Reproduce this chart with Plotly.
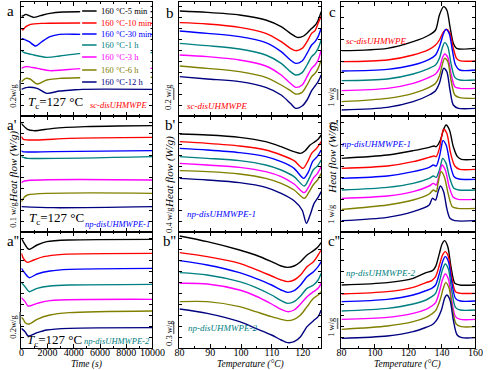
import plotly.graph_objects as go

W, H = 500, 370
SERIF = "Liberation Serif"

names = ["160 °C-5 min", "160 °C-10 min", "160 °C-30 min", "160 °C-1 h",
         "160 °C-3 h", "160 °C-6 h", "160 °C-12 h"]
colors = ["#000000", "#ff0000", "#0000ff", "#008080", "#ff00ff", "#808000", "#000080"]

# ---- column a : isothermal crystallization at 127 °C (time, s ; stacked heat flow, a.u.)
a_x = [
    [0, 100, 340, 590, 950, 1450, 2180, 3160, 4630, 10000],
    [0, 100, 340, 700, 1700, 10000],
    [0, 220, 590, 1080, 1570, 2180, 2915, 4630, 10000],
    [0, 220, 955, 1935, 2915, 3895, 4630, 10000],
    [0, 340, 1200, 2180, 3160, 4630, 10000],
    [0, 340, 660, 1200, 1935, 2915, 4630, 10000],
    [0, 465, 1200, 1935, 2915, 3895, 4630, 10000],
]
a_y = [
    [300, 300, 305, 301, 296, 301, 308, 312, 313, 313],
    [262, 258, 268, 275, 278, 278],
    [233, 230, 223, 210, 223, 238, 245, 245, 245],
    [196, 190, 183, 176, 180, 185, 188, 190],
    [143, 148, 143, 136, 138, 142, 143],
    [103, 113, 111, 96, 108, 113, 115, 116],
    [80, 86, 83, 68, 75, 78, 80, 80],
]
ap_x = [
    [0, 100, 465, 955, 2425, 4875, 7325, 10000],
    [0, 150, 1200, 3650, 10000],
    [0, 100, 2425, 10000],
    [0, 220, 465, 10000],
    [0, 220, 10000],
    [0, 220, 465, 10000],
    [0, 2425, 10000],
]
ap_y = [
    [326, 321, 308, 304, 311, 316, 318, 319],
    [286, 278, 276, 281, 284],
    [244, 241, 241, 244],
    [226, 223, 221, 226],
    [148, 153, 156],
    [91, 104, 111, 116],
    [76, 73, 76],
]
app_x = [
    [0, 220, 465, 590, 1200, 1935, 3650, 10000],
    [0, 150, 465, 955, 1690, 3160, 10000],
    [0, 280, 590, 1200, 2180, 3650, 10000],
    [0, 280, 590, 1200, 2180, 3650, 10000],
    [0, 280, 515, 1200, 2180, 10000],
    [0, 150, 295, 590, 1200, 2180, 3650, 10000],
    [0, 280, 515, 1200, 1935, 3650, 10000],
]
app_y = [
    [329, 314, 299, 296, 309, 319, 324, 326],
    [284, 269, 257, 264, 274, 281, 284],
    [239, 224, 211, 222, 231, 236, 239],
    [196, 184, 169, 179, 186, 189, 191],
    [151, 139, 126, 134, 142, 146],
    [92, 86, 76, 72, 86, 99, 106, 111],
    [59, 49, 36, 46, 54, 59, 61],
]

# ---- column b : temperature (°C) ; stacked heat flow, a.u.
b_T0 = [80, 89, 99.5, 108, 113, 116, 118.2, 120.3, 122.4, 124.5, 126]
b_T = [80, 89, 99.5, 108, 113, 116, 117.7, 119.8, 121.4, 122.9, 124, 125, 126]
b_x = [b_T0, b_T, b_T, b_T, b_T, b_T, b_T]
b_y = [
    [315, 311, 303, 288, 268, 248, 236, 240, 258, 278, 313],
    [280, 276, 266, 248, 223, 203, 196, 203, 223, 248, 256, 278, 300],
    [255, 248, 238, 220, 193, 168, 158, 165, 188, 213, 223, 238, 263],
    [218, 211, 201, 183, 158, 133, 123, 130, 153, 178, 188, 203, 228],
    [183, 178, 168, 150, 123, 98, 86, 93, 118, 143, 153, 168, 198],
    [150, 143, 133, 116, 93, 76, 66, 71, 93, 118, 128, 143, 168],
    [118, 111, 103, 86, 63, 38, 23, 30, 48, 76, 90, 103, 123],
]
bp_T = [80, 89, 99.5, 108, 113, 117.2, 120.5, 122.1, 123.4, 124.8, 126]
bp_x = [
    [80, 89, 99.5, 108, 113, 117.2, 119.3, 120.8, 122.4, 124, 125, 126],
    [80, 89, 99.5, 108, 113, 117.2, 120.1, 121.6, 122.9, 124.5, 126],
    [80, 89, 99.5, 108, 113, 117.2, 120.3, 121.9, 123.2, 124.7, 126],
    bp_T, bp_T, bp_T,
    [80, 89, 99.5, 108, 113, 117.2, 119.8, 121.2, 122.4, 123.7, 125, 126],
]
bp_y = [
    [294, 291, 284, 271, 256, 241, 236, 244, 261, 271, 278, 291],
    [271, 266, 258, 246, 231, 214, 191, 211, 236, 251, 271],
    [251, 246, 238, 226, 211, 191, 161, 181, 211, 226, 246],
    [226, 221, 214, 201, 186, 166, 138, 161, 186, 198, 216],
    [206, 201, 194, 181, 166, 144, 118, 138, 161, 176, 196],
    [184, 181, 174, 161, 146, 126, 101, 121, 141, 156, 176],
    [161, 156, 148, 134, 116, 94, 66, 26, 51, 86, 104, 121],
]
bpp_T = [80, 89, 99.5, 104.7, 109.9, 113, 115.1, 117.2, 119.3, 121.4, 123.5, 125, 126]
bpp_x = [bpp_T] * 7
bpp_y = [
    [336, 319, 294, 279, 259, 246, 242, 246, 259, 279, 292, 304, 316],
    [286, 274, 254, 236, 216, 204, 199, 204, 219, 244, 259, 279, 294],
    [262, 249, 226, 209, 189, 174, 167, 172, 189, 214, 229, 244, 259],
    [226, 219, 199, 182, 159, 142, 134, 139, 156, 179, 189, 204, 224],
    [194, 192, 174, 156, 132, 116, 109, 114, 132, 154, 169, 179, 194],
    [139, 139, 124, 109, 94, 86, 82, 86, 99, 124, 149, 159, 169],
    [117, 104, 79, 59, 39, 24, 16, 19, 34, 64, 82, 94, 114],
]

# ---- column c : temperature (°C) ; stacked heat flow, a.u.
c_T = [80, 107.4, 122.8, 132.4, 136.2, 138.5, 140.4, 141.6, 143.5, 145.4, 147.7, 150.6, 160]
c_x = [
    [80, 107.4, 122.8, 132.4, 136.2, 138.5, 141, 142.9, 144.8, 146.8, 148.7, 160],
    [80, 107.4, 122.8, 132.4, 136.2, 138.5, 141, 142.9, 144.8, 146.8, 148.7, 150.6, 160],
    [80, 107.4, 122.8, 132.4, 136.2, 138.5, 141, 142.3, 144.3, 146.2, 148.1, 150.6, 160],
    c_T, c_T, c_T,
    [80, 107.4, 122.8, 132.4, 136.2, 138.5, 140, 141, 142.9, 144.8, 146.8, 149.8, 160],
]
c_y = [
    [196, 203, 223, 243, 258, 303, 328, 318, 268, 218, 203, 203],
    [163, 168, 183, 200, 213, 228, 253, 260, 248, 203, 173, 166, 165],
    [135, 140, 153, 170, 183, 208, 248, 260, 248, 198, 153, 138, 138],
    [106, 111, 126, 143, 153, 173, 208, 220, 208, 158, 116, 108, 108],
    [76, 83, 98, 116, 126, 143, 176, 186, 176, 128, 88, 83, 83],
    [43, 53, 68, 86, 98, 120, 158, 173, 163, 108, 63, 55, 53],
    [18, 26, 43, 63, 76, 98, 128, 143, 133, 78, 33, 23, 23],
]
cp_x = [
    [80, 107.4, 122.8, 132.4, 135.3, 136.6, 139.1, 141, 142.5, 144.5, 146.8, 149.3, 151.6, 160],
    [80, 107.4, 122.8, 132.4, 135.3, 136.6, 138.5, 140, 141, 142.9, 145.2, 147.7, 150.6, 160],
    [80, 107.4, 122.8, 132.4, 134.9, 136.6, 138.5, 139.7, 140.6, 142.5, 145, 147.3, 150.2, 160],
    [80, 107.4, 122.8, 132.4, 134.9, 136.6, 138.5, 139.5, 140.4, 142.3, 144.7, 147.1, 150, 160],
    [80, 107.4, 122.8, 132.4, 134.9, 136.6, 138.1, 139.1, 140, 142, 144.3, 146.8, 149.6, 160],
    [80, 107.4, 122.8, 132.4, 134.9, 136.6, 137.7, 138.5, 139.5, 141.4, 143.9, 146.2, 149.3, 160],
    [80, 107.4, 122.8, 132.4, 134.3, 136.2, 137.7, 139.1, 141, 142.9, 144.8, 147.7, 160],
]
cp_y = [
    [221, 231, 244, 254, 258, 256, 276, 308, 321, 306, 256, 226, 218, 218],
    [191, 198, 211, 224, 228, 226, 251, 291, 308, 296, 236, 198, 188, 188],
    [161, 168, 181, 194, 201, 198, 226, 256, 274, 261, 201, 166, 159, 158],
    [126, 134, 146, 161, 168, 164, 186, 206, 221, 208, 161, 131, 126, 126],
    [101, 108, 121, 138, 146, 141, 166, 186, 201, 186, 136, 104, 98, 98],
    [68, 81, 96, 114, 126, 121, 146, 166, 181, 166, 111, 76, 71, 71],
    [34, 44, 61, 81, 101, 96, 121, 138, 121, 71, 41, 34, 34],
]
cpp_T = [80, 107.4, 122.8, 130.5, 133.9, 136.2, 138.5, 140.4, 142, 143.9, 145.8, 148.1, 151, 160]
cpp_x = [
    [80, 107.4, 122.8, 130.5, 134.3, 136.2, 138.5, 140.1, 141.6, 143.5, 145.4, 147.7, 150.6, 160],
    cpp_T, cpp_T, cpp_T, cpp_T,
    [80, 107.4, 122.8, 130.5, 133.9, 136.2, 138.9, 140.8, 142.3, 144.3, 146.2, 148.5, 151.6, 160],
    [80, 107.4, 122.8, 130.5, 133.9, 136.6, 139.7, 141.6, 142.9, 144.8, 146.8, 149.1, 151.9, 160],
]
cpp_y = [
    [189, 196, 209, 226, 232, 244, 284, 312, 322, 304, 244, 194, 189, 189],
    [162, 169, 182, 196, 202, 214, 249, 279, 289, 274, 214, 169, 164, 164],
    [139, 146, 159, 172, 179, 189, 224, 259, 274, 259, 199, 149, 141, 141],
    [111, 119, 132, 144, 154, 164, 199, 236, 252, 236, 174, 122, 114, 114],
    [86, 92, 104, 116, 126, 136, 169, 206, 222, 206, 144, 94, 86, 86],
    [56, 66, 79, 92, 102, 112, 144, 179, 196, 179, 119, 72, 64, 64],
    [29, 36, 49, 62, 69, 82, 114, 149, 159, 144, 84, 39, 31, 31],
]

panels = [
    (a_x, a_y, 0, 0), (ap_x, ap_y, 0, 1), (app_x, app_y, 0, 2),
    (b_x, b_y, 1, 0), (bp_x, bp_y, 1, 1), (bpp_x, bpp_y, 1, 2),
    (c_x, c_y, 2, 0), (cp_x, cp_y, 2, 1), (cpp_x, cpp_y, 2, 2),
]
col_px = [(17, 153), (181, 328), (349, 488)]
row_px = [(2, 116), (116, 232), (232, 348)]
x_ranges = [[0, 10000], [80, 126], [80, 160]]
x_tick0 = [0, 80, 80]
x_dtick = [2000, 10, 20]
x_minor = [1000, 5, 10]
y_ranges = [[0, 342], [0, 348], [0, 348]]

fig = go.Figure()
layout = {}
for k, (xs, ys, col, row) in enumerate(panels, start=1):
    sfx = "" if k == 1 else str(k)
    for i in range(7):
        fig.add_trace(go.Scatter(
            x=xs[i], y=ys[i], mode="lines",
            line=dict(color=colors[i], width=1.4, shape="spline", smoothing=0.8),
            xaxis="x" + sfx, yaxis="y" + sfx, showlegend=False, hoverinfo="skip"))
    x0, x1 = col_px[col]
    y0, y1 = row_px[row]
    layout["xaxis" + sfx] = dict(
        domain=[x0 / W, x1 / W], range=x_ranges[col], anchor="y" + sfx,
        showline=True, linecolor="#000", linewidth=1, mirror="allticks",
        ticks="inside", ticklen=4, tickcolor="#000", tick0=x_tick0[col], dtick=x_dtick[col],
        minor=dict(ticks="inside", ticklen=2, dtick=x_minor[col], tickcolor="#000", showgrid=False),
        showgrid=False, zeroline=False, showticklabels=(row == 2),
        tickformat="d", exponentformat="none", ticklabelstandoff=-5,
        tickfont=dict(family=SERIF, size=10, color="#000"))
    layout["yaxis" + sfx] = dict(
        domain=[1 - y1 / H, 1 - y0 / H], range=y_ranges[row], anchor="x" + sfx,
        showline=True, linecolor="#000", linewidth=1, mirror="allticks",
        ticks="inside", ticklen=3, tickcolor="#000", tick0=0, dtick=33,
        showgrid=False, zeroline=False, showticklabels=False)


def P(x, y):
    return x / W, 1 - y / H


ann = []


def text(x, y, s, size, color="#000", angle=0, italic=False, xanchor="center"):
    px, py = P(x, y)
    if italic:
        s = "<i>" + s + "</i>"
    ann.append(dict(x=px, y=py, xref="paper", yref="paper", text=s, showarrow=False,
                    xanchor=xanchor, yanchor="middle", textangle=angle,
                    font=dict(family=SERIF, size=size, color=color)))


# panel letters
for s, x, y in [("a", 6, 11), ("a'", 7, 125), ("a''", 8, 241),
                ("b", 171, 13), ("b'", 172, 125), ("b''", 171, 241),
                ("c", 340, 12), ("c'", 341, 125), ("c''", 341, 241)]:
    text(x, y, s, 15)

# y-axis titles and scale-bar labels
for x, y in [(8, 167), (170, 172), (339, 158)]:
    text(x, y, "Heat flow (W/g)", 11, angle=-90, italic=True)
for s, x, y in [("0.2w/g", 8, 96), ("0.1 w/g", 8, 215), ("0.2w/g", 8, 327),
                ("0.2 w/g", 169, 97), ("0.4 w/g", 170, 220), ("0.3 w/g", 170, 333),
                ("1 w/g", 338, 97), ("1 w/g", 338, 214), ("1 w/g", 338, 327)]:
    text(x, y, s, 8.5, angle=-90)

# Tc labels
for x, y in [(22, 102), (23, 219), (21, 340)]:
    text(x, y, "<i>T</i><sub>c</sub>=127 °C", 13, xanchor="left")

# sample labels
samples = [("sc-disUHMWPE", "#ff0000"), ("np-disUHMWPE-1", "#0000ff"), ("np-disUHMWPE-2", "#008080")]
for (x, y), (s, c) in zip([(118, 105), (117, 224), (116, 341)], samples):
    text(x, y, s, 8.5, color=c, italic=True)
for (x, y), (s, c) in zip([(220, 106), (225, 214), (226, 328)], samples):
    text(x, y, s, 9, color=c, italic=True)
for (x, y), (s, c) in zip([(385, 41), (385, 144), (390, 273)], samples):
    text(x, y, s, 9, color=c, italic=True)

# x-axis titles
text(85, 364, "Time (s)", 9.5, italic=True)
text(255, 364, "Temperature (°C)", 9.5, italic=True)
text(418, 364, "Temperature (°C)", 9.5, italic=True)

shapes = []
# legend box in panel a
bx0, by0 = P(78, 4)
bx1, by1 = P(151, 88)
shapes.append(dict(type="rect", xref="paper", yref="paper", x0=bx0, x1=bx1, y0=by1, y1=by0,
                   fillcolor="#fff", line=dict(width=0), layer="above"))
leg_rows = [11, 23, 34, 45, 57, 70, 82]
for nm, c, yy in zip(names, colors, leg_rows):
    lx0, ly = P(80, yy)
    lx1, _ = P(95, yy)
    shapes.append(dict(type="line", xref="paper", yref="paper", x0=lx0, x1=lx1, y0=ly, y1=ly,
                       line=dict(color=c, width=1.5), layer="above"))
    text(97, yy, nm, 8.5, color=c, xanchor="left")

# scale bars
for x, ya, yb in [(15.5, 80, 91), (15.5, 312, 324), (175, 88, 100), (175, 322, 334),
                  (345, 89, 100), (345, 318, 329)]:
    sx, sy0 = P(x, ya)
    _, sy1 = P(x, yb)
    shapes.append(dict(type="line", xref="paper", yref="paper", x0=sx, x1=sx, y0=sy0, y1=sy1,
                       line=dict(color="#777", width=1.5), layer="above"))

fig.update_layout(
    width=W, height=H, margin=dict(l=0, r=0, t=0, b=0),
    paper_bgcolor="#fff", plot_bgcolor="#fff", showlegend=False,
    annotations=ann, shapes=shapes, **layout)

fig.write_html("out.html", config={"displayModeBar": False},
               post_script="document.body.style.margin='0px';")
